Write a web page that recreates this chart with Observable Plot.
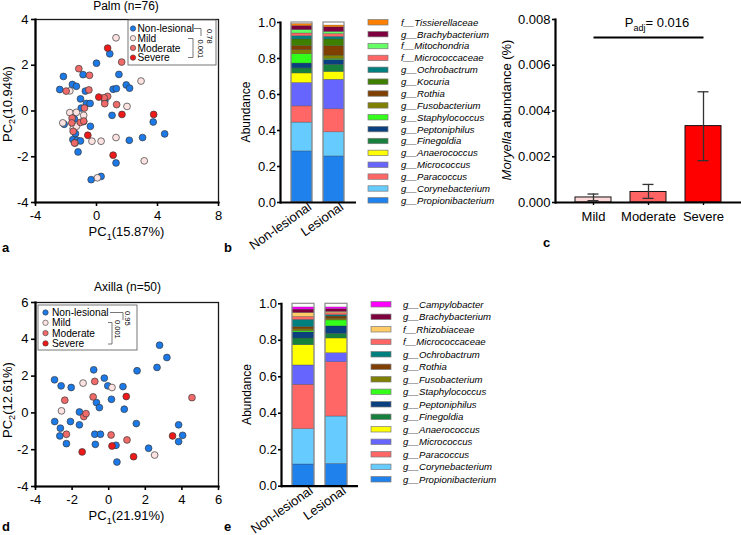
<!DOCTYPE html>
<html>
<head>
<meta charset="utf-8">
<script src="https://cdn.jsdelivr.net/npm/d3@7"></script>
<script src="https://cdn.jsdelivr.net/npm/@observablehq/plot@0.6"></script>
<style>
  body { margin: 0; background: #fff; }
  #fig { position: relative; width: 741px; height: 535px; overflow: hidden; background: #fff;
         font-family: "Liberation Sans", Arial, Helvetica, sans-serif; }
  #fig svg { position: absolute; overflow: visible; }
</style>
</head>
<body>
<div id="fig"></div>
<script>
const FONT = '"Liberation Sans", Arial, Helvetica, sans-serif';

// ---------- PCA groups ----------
const groupNames = ["Non-lesional", "Mild", "Moderate", "Severe"];
const groupFills = ["#1c79e8", "#fde2e2", "#f06a6a", "#ee1a1a"];

// Palm (n=76) PC1/PC2 scores
const palmNonLesional = [[0.87,2.50],[0.0,2.09],[-2.17,1.51],[-0.88,1.59],[1.47,1.60],[-1.58,1.16],[-1.32,1.08],
  [-2.41,0.94],[-0.73,0.87],[1.09,0.95],[1.30,0.98],[1.95,1.14],[2.17,1.0],[-1.05,0.53],[0.55,0.45],
  [-0.66,0.33],[-0.42,0.33],[1.02,-0.19],[-1.0,0.13],[-1.45,-0.35],[-2.12,-0.58],[-0.84,-0.46],[-0.40,-0.67],
  [3.72,-0.48],[4.47,-1.0],[-1.38,-0.99],[-1.55,-1.25],[-1.27,-1.28],[-1.05,-1.31],[2.15,-1.28],[3.02,-1.16],
  [-1.21,-1.79],[1.28,-2.27],[0.30,-2.86],[-0.35,-3.0]];
const palmMild = [[1.28,3.20],[2.92,1.31],[-1.75,0.88],[2.0,0.20],[-1.75,-0.07],[-1.32,-0.06],[-0.84,-0.19],
  [-2.21,-0.52],[-1.53,-0.77],[-1.32,-0.67],[1.28,-1.16],[-0.30,-1.32],[0.30,-1.32],[-1.40,-1.40],[3.13,-2.18],[0.06,-2.92]];
const palmModerate = [[-1.16,1.85],[-0.46,1.56],[1.65,2.14],[-1.99,0.87],[-0.50,0.92],[0.73,0.64],[0.50,0.58],
  [-0.79,0.13],[0.54,0.32],[1.32,0.28],[-1.60,-0.31],[-1.62,-0.52],[-1.05,-0.50],[-0.84,-0.44],[-1.53,-0.89],[-1.44,-1.40]];
const palmSevere = [[0.73,2.75],[0.15,0.61],[1.67,-0.15],[3.75,-0.15],[-0.57,-1.06],[1.09,-1.93]];

// Axilla (n=50) PC1/PC2 scores
const axillaNonLesional = [[2.78,3.68],[3.18,3.01],[2.64,2.47],[1.55,2.29],[-0.82,2.34],[-2.96,1.80],[-2.60,1.47],
  [-2.05,1.38],[-0.24,1.89],[-0.05,1.47],[0.78,1.43],[0.15,0.74],[-0.67,0.56],[-0.51,0.29],[0.85,0.20],
  [-1.60,0.05],[-2.95,-0.47],[-2.09,-0.47],[-2.64,-0.83],[-1.60,-0.65],[-2.67,-1.25],[-0.76,-1.16],[-0.45,-1.16],
  [-2.31,-1.67],[-0.73,-1.71],[0.40,-1.76],[0.45,-2.67],[1.51,-0.58],[2.18,-1.92],[3.82,-0.65],[3.82,-1.56],[4.04,-1.22]];
const axillaMild = [[-1.40,1.62],[0.18,1.38],[-2.58,0.11],[2.51,-2.29]];
const axillaModerate = [[-2.40,0.69],[-0.76,1.71],[-0.85,0.87],[-1.36,-0.20],[-1.24,-0.04],[-2.31,-1.16],
  [0.13,-1.20],[1.0,-1.47],[4.55,0.83]];
const axillaSevere = [[0.96,0.89],[-1.45,-2.12],[0.18,-1.80],[1.36,-2.38],[3.49,-1.25]];

// ---------- stacked relative abundance ----------
const samples = ["Non-lesional", "Lesional"];
const barTotals = [1.0, 1.0];

// Palm, bottom to top
const palmTaxa = ["g__Propionibacterium","g__Corynebacterium","g__Paracoccus","g__Micrococcus","g__Anaerococcus",
  "g__Finegoldia","g__Peptoniphilus","g__Staphylococcus","g__Fusobacterium","g__Rothia","g__Kocuria",
  "g__Ochrobactrum","f__Micrococcaceae","f__Mitochondria","g__Brachybacterium","f__Tissierellaceae"];
const palmTaxaColors = ["#1f82ec","#66ccff","#ff6666","#6666ff","#ffff00","#17803d","#0a3f80","#33ff1a",
  "#7f7f00","#7f3f00","#3f7f00","#007f7f","#ff6666","#66ff66","#7f003f","#ff8000"];
const palmNonLesionalAbund = [0.284,0.160,0.090,0.130,0.053,0.028,0.027,0.052,0.022,0.023,0.037,0.018,0.015,0.019,0.022,0.011];
const palmLesionalAbund    = [0.256,0.134,0.128,0.164,0.043,0.040,0.027,0.006,0.018,0.052,0.038,0.014,0.016,0.012,0.025,0.010];

// Axilla, bottom to top
const axillaTaxa = ["g__Propionibacterium","g__Corynebacterium","g__Paracoccus","g__Micrococcus","g__Anaerococcus",
  "g__Finegoldia","g__Peptoniphilus","g__Staphylococcus","g__Fusobacterium","g__Rothia","g__Ochrobactrum",
  "f__Micrococcaceae","f__Rhizobiaceae","g__Brachybacterium","g__Campylobacter"];
const axillaTaxaColors = ["#1f82ec","#66ccff","#ff6666","#6666ff","#ffff00","#17803d","#0a3f80","#33ff1a",
  "#7f7f00","#7f3f00","#007f7f","#ff6666","#ffcc66","#7f003f","#ff00ff"];
const axillaNonLesionalAbund = [0.119,0.194,0.243,0.106,0.111,0.037,0.033,0.007,0.010,0.012,0.040,0.016,0.022,0.018,0.012];
const axillaLesionalAbund    = [0.122,0.260,0.298,0.049,0.081,0.025,0.041,0.033,0.009,0.012,0.008,0.010,0.008,0.014,0.010];

// ---------- Moryella abundance ----------
const severity = ["Mild", "Moderate", "Severe"];
const severityFills = ["#ffd9d9", "#ff6464", "#ff0000"];
const moryellaMean = [0.00022, 0.00046, 0.00334];
const moryellaLow  = [0.00008, 0.00018, 0.00183];
const moryellaHigh = [0.00037, 0.00079, 0.00484];
const sigComparison = {from: "Mild", to: "Severe", y: 0.00721, label: "0.016"};

// ================= drawing =================
const fig = document.getElementById("fig");
function place(svg, left, top) {
  svg.style.left = left + "px"; svg.style.top = top + "px";
  fig.appendChild(svg);
}
const baseStyle = {fontFamily: FONT, fontSize: "13px", overflow: "visible", background: "transparent", color: "#000"};

function rowsOf(lists) {
  return groupNames.flatMap((g, i) => lists[i].map(([x, y]) => ({group: g, x, y})));
}

function pcaPlot(rows, o) {
  return Plot.plot({
    width: o.width, height: o.height,
    marginLeft: o.ml, marginRight: o.mr, marginTop: o.mt, marginBottom: o.mb,
    style: baseStyle,
    x: {domain: o.xDomain, axis: null},
    y: {domain: o.yDomain, axis: null},
    color: {domain: groupNames, range: groupFills},
    marks: [
      Plot.frame({stroke: "#1a1a1a", strokeWidth: 1.3}),
      Plot.frame({anchor: "left", stroke: "#000", strokeWidth: 2.2}),
      Plot.frame({anchor: "bottom", stroke: "#000", strokeWidth: 2.2}),
      Plot.axisX({ticks: o.xTicks, tickFormat: d => String(d), tickSize: 4, tickPadding: 4, strokeWidth: 1.6, label: null, fontSize: 13}),
      Plot.axisY({ticks: o.yTicks, tickFormat: d => String(d), tickSize: 4, tickPadding: 3, strokeWidth: 1.6, label: null, fontSize: 13}),
      Plot.dot(rows, {x: "x", y: "y", fill: "group", r: 3.4, stroke: "#3a3a3a", strokeWidth: 0.7})
    ]
  });
}

function stackPlot(taxa, colors, nl, les, o) {
  const rows = [];
  taxa.forEach((t, i) => {
    rows.push({sample: samples[0], taxon: t, value: nl[i]});
    rows.push({sample: samples[1], taxon: t, value: les[i]});
  });
  const totals = samples.map((s, i) => ({sample: s, total: barTotals[i]}));
  return Plot.plot({
    width: o.width, height: o.height,
    marginLeft: o.ml, marginRight: o.mr, marginTop: o.mt, marginBottom: o.mb,
    style: baseStyle,
    x: {domain: samples, paddingInner: o.pi, paddingOuter: o.po, axis: null},
    y: {domain: [0, 1], axis: null},
    color: {domain: taxa, range: colors},
    marks: [
      Plot.barY(rows, {x: "sample", y: "value", fill: "taxon", stroke: "#3a3a3a", strokeWidth: 0.5, strokeOpacity: 0.6}),
      Plot.barY(totals, {x: "sample", y: "total", fill: "none", stroke: "#8c8c8c", strokeWidth: 1.2}),
      Plot.ruleY([0], {stroke: "#000", strokeWidth: 2.2}),
      Plot.frame({anchor: "left", stroke: "#000", strokeWidth: 2.2}),
      Plot.axisY({ticks: [0, 0.2, 0.4, 0.6, 0.8, 1.0], tickFormat: d3.format(".1f"), tickSize: 3, tickPadding: 1.5, strokeWidth: 1.6, label: null, fontSize: 13}),
      Plot.axisX({tickRotate: -35, tickSize: 0, tickPadding: 4, dx: 8, dy: -1, label: null, fontSize: 13})
    ]
  });
}

// Panel a
place(pcaPlot(rowsOf([palmNonLesional, palmMild, palmModerate, palmSevere]),
  {width: 230, height: 232, ml: 35, mr: 12, mt: 19, mb: 30, xDomain: [-4, 8], yDomain: [-4, 4],
   xTicks: [-4, 0, 4, 8], yTicks: [-4, -2, 0, 2, 4]}), 0, 0);

// Panel d
place(pcaPlot(rowsOf([axillaNonLesional, axillaMild, axillaModerate, axillaSevere]),
  {width: 230, height: 232, ml: 35, mr: 12, mt: 22, mb: 26, xDomain: [-4, 6], yDomain: [-4, 6],
   xTicks: [-4, -2, 0, 2, 4, 6], yTicks: [-4, -2, 0, 2, 4, 6]}), 0, 280);

// Panel b
place(stackPlot(palmTaxa, palmTaxaColors, palmNonLesionalAbund, palmLesionalAbund,
  {width: 150, height: 250, ml: 60, mr: 14, mt: 22, mb: 48, pi: 0.33, po: 0.35}), 220, 0);

// Panel e
place(stackPlot(axillaTaxa, axillaTaxaColors, axillaNonLesionalAbund, axillaLesionalAbund,
  {width: 150, height: 255, ml: 61, mr: 12, mt: 23.3, mb: 49.3, pi: 0.333, po: 0.333}), 220, 280);

// Panel c
const cRows = severity.map((g, i) => ({group: g, mean: moryellaMean[i], lo: moryellaLow[i], hi: moryellaHigh[i]}));
place(Plot.plot({
  width: 261, height: 250, marginLeft: 75, marginRight: 0, marginTop: 19, marginBottom: 48,
  style: baseStyle,
  x: {domain: severity, paddingInner: 0.345, paddingOuter: 0.363, axis: null},
  y: {domain: [0, 0.008], axis: null},
  color: {domain: severity, range: severityFills},
  marks: [
    Plot.barY(cRows, {x: "group", y: "mean", fill: "group", stroke: "#111", strokeWidth: 1}),
    Plot.ruleX(cRows, {x: "group", y1: "lo", y2: "hi", stroke: "#333", strokeWidth: 1.3}),
    Plot.tickY(cRows, {x: "group", y: "lo", insetLeft: 12.5, insetRight: 12.5, stroke: "#333", strokeWidth: 1.3}),
    Plot.tickY(cRows, {x: "group", y: "hi", insetLeft: 12.5, insetRight: 12.5, stroke: "#333", strokeWidth: 1.3}),
    Plot.link([sigComparison], {x1: "from", x2: "to", y1: "y", y2: "y", stroke: "#000", strokeWidth: 2}),
    Plot.ruleY([0], {stroke: "#000", strokeWidth: 2.2}),
    Plot.frame({anchor: "left", stroke: "#000", strokeWidth: 2.2}),
    Plot.axisY({ticks: [0, 0.002, 0.004, 0.006, 0.008], tickFormat: d3.format(".3f"), tickSize: 3, tickPadding: 2, strokeWidth: 1.6, label: null, fontSize: 13}),
    Plot.axisX({tickSize: 3, tickPadding: 6, strokeWidth: 1.4, label: null, fontSize: 13})
  ]
}), 480, 0);

// ---------- annotation overlay (titles, labels, legends) ----------
const ov = d3.create("svg").attr("width", 741).attr("height", 535)
  .style("left", "0px").style("top", "0px").style("font-family", FONT);
fig.appendChild(ov.node());

function txt(x, y, s, size, opts = {}) {
  const t = ov.append("text").attr("x", x).attr("y", y).attr("font-size", size)
    .attr("text-anchor", opts.anchor || "start").attr("fill", "#000");
  if (opts.rotate) t.attr("transform", `rotate(${opts.rotate},${x},${y})`);
  if (opts.weight) t.attr("font-weight", opts.weight);
  if (opts.italic) t.attr("font-style", "italic");
  t.text(s);
  return t;
}
function subLabel(x, y, main, sub, rest, size, rotate) {
  const t = ov.append("text").attr("x", x).attr("y", y).attr("font-size", size).attr("text-anchor", "middle");
  if (rotate) t.attr("transform", `rotate(${rotate},${x},${y})`);
  t.append("tspan").text(main);
  t.append("tspan").attr("font-size", size * 0.7).attr("dy", size * 0.3).text(sub);
  t.append("tspan").attr("dy", -size * 0.3).text(rest);
}

// titles
txt(126, 10, "Palm (n=76)", 12, {anchor: "middle"});
txt(127.5, 291, "Axilla (n=50)", 12, {anchor: "middle"});
// PCA axis labels
subLabel(126.5, 236, "PC", "1", "(15.87%)", 13);
subLabel(11.5, 104, "PC", "2", "(10.94%)", 13, -90);
subLabel(126.5, 520, "PC", "1", "(21.91%)", 13);
subLabel(11.5, 400, "PC", "2", "(12.61%)", 13, -90);
// Abundance labels
txt(250, 112, "Abundance", 12, {anchor: "middle", rotate: -90});
txt(251, 394.5, "Abundance", 12, {anchor: "middle", rotate: -90});
// Moryella axis label
{
  const t = ov.append("text").attr("x", 511).attr("y", 110).attr("font-size", 13)
    .attr("text-anchor", "middle").attr("transform", "rotate(-90,511,110)");
  t.append("tspan").attr("font-style", "italic").text("Moryella");
  t.append("tspan").text(" abundance (%)");
}
// P adj
{
  const t = ov.append("text").attr("x", 657).attr("y", 27).attr("font-size", 13).attr("text-anchor", "middle");
  t.append("tspan").text("P");
  t.append("tspan").attr("font-size", 9).attr("dy", 3.5).text("adj");
  t.append("tspan").attr("dy", -3.5).text("= " + sigComparison.label);
}
// panel letters
txt(2, 252, "a", 13, {weight: "bold"});
txt(224, 252, "b", 13, {weight: "bold"});
txt(543, 247, "c", 13, {weight: "bold"});
txt(2, 531, "d", 13, {weight: "bold"});
txt(224, 531, "e", 13, {weight: "bold"});

// PCA legends
function pcaLegend(box, ys, dotX, textX, brackets) {
  ov.append("rect").attr("x", box[0]).attr("y", box[1]).attr("width", box[2]).attr("height", box[3])
    .attr("fill", "#fff").attr("stroke", "#666").attr("stroke-width", 0.9);
  groupNames.forEach((g, i) => {
    ov.append("circle").attr("cx", dotX).attr("cy", ys[i]).attr("r", 2.7)
      .attr("fill", groupFills[i]).attr("stroke", "#3a3a3a").attr("stroke-width", 0.6);
    txt(textX, ys[i] + 3.6, g, 10.2);
  });
  brackets.paths.forEach(p => ov.append("path").attr("d", p).attr("fill", "none").attr("stroke", "#555").attr("stroke-width", 0.8));
  brackets.labels.forEach(([x, y, s]) => txt(x, y, s, 7.5, {rotate: 90}));
}
pcaLegend([128, 20, 88, 45], [28.5, 38.2, 47.9, 57.6], 133, 137.5,
  {paths: ["M194,28.5H201V36", "M188,38.5H193V57.5H188"],
   labels: [[206.5, 29, "0.78"], [197.5, 39.5, "0.001"]]});
pcaLegend([38, 305, 99, 45], [312.5, 322.8, 333.1, 343.4], 45.5, 52,
  {paths: ["M110,312.5H123V320", "M108,322.5H112V344H108"],
   labels: [[125, 311, "0.95"], [115, 320, "0.001"]]});

// taxa legends (top to bottom = stack top to bottom)
function taxaLegend(taxa, colors, x0, y0, step, textX) {
  const n = taxa.length;
  for (let k = 0; k < n; k++) {
    const i = n - 1 - k;
    const y = y0 + k * step;
    ov.append("rect").attr("x", x0).attr("y", y - 2.7).attr("width", 20).attr("height", 5.4)
      .attr("fill", colors[i]).attr("stroke", "#7a7a7a").attr("stroke-width", 0.7);
    txt(textX, y + 3.4, taxa[i], 9.6, {italic: true});
  }
}
taxaLegend(palmTaxa, palmTaxaColors, 368, 22.3, 11.87, 401);
taxaLegend(axillaTaxa, axillaTaxaColors, 371, 304.3, 12.5, 403);
</script>
</body>
</html>
